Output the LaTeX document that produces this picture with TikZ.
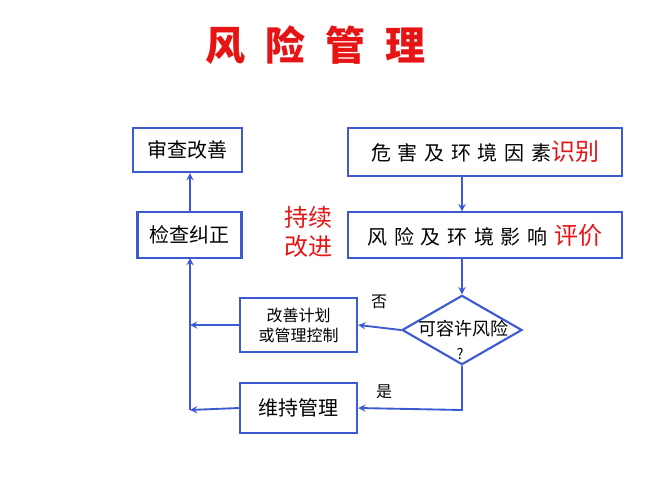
\documentclass[tikz,border=0pt]{standalone}
\usepackage{fontspec}
\setmainfont{Noto Sans CJK SC}
\usetikzlibrary{shapes.geometric}
\definecolor{boxblue}{RGB}{60,90,210}
\definecolor{titlered}{RGB}{230,20,20}
\tikzset{box/.style={draw=boxblue,line width=1.6pt,fill=white,inner sep=0pt,font=\fontsize{15}{18}\selectfont},
  flow/.style={->,>=stealth,draw=boxblue,line width=1.4pt}}
\begin{document}
\begin{tikzpicture}[x=0.75pt,y=-0.75pt]
                \useasboundingbox (0,0) rectangle (667,500);
                % Title
                \node[font=\fontsize{30}{34}\selectfont\bfseries,text=titlered] (title) at (315,45) {风\enspace 险\enspace 管\enspace 理};

                % Boxes
                \node[box,minimum width=82pt,minimum height=33pt] (audit) at (187.5,150) {审查改善};
                \node[box,minimum width=205pt,minimum height=36pt] (ident) at (485,152) {危\,\,害\,\,及\,\,环\,\,境\,\,因\,\,素\textcolor{titlered}{\fontsize{18}{20}\selectfont 识别}};
                \node[box,minimum width=78pt,minimum height=34pt] (check) at (189.5,235) {检查纠正};
                \node[box,minimum width=205pt,minimum height=34pt] (eval) at (485,235) {风\,\,险\,\,及\,\,环\,\,境\,\,影\,\,响\,\,\textcolor{titlered}{\fontsize{18}{20}\selectfont 评价}};
                \node[box,draw=boxblue,diamond,aspect=1.9,minimum width=90pt,minimum height=52pt] (risk) at (462,330) {};
                \node[font=\fontsize{13.5}{16}\selectfont] (risktxt) at (463,329) {可容许风险};
                \node[font=\fontsize{11}{13}\selectfont] (q) at (460,354) {?};
                \node[box,minimum width=88pt,minimum height=40pt,align=center,font=\fontsize{12}{15}\selectfont] (plan) at (298.5,325) {改善计划\\或管理控制};
                \node[box,minimum width=88pt,minimum height=37pt] (keep) at (298.5,408) {维持管理};

                % Labels
                \node[font=\fontsize{18}{22}\selectfont,text=titlered,align=center] (cont) at (308,232) {持续\\改进};
                \node[font=\fontsize{12}{14}\selectfont] (no) at (379,302) {否};
                \node[font=\fontsize{12}{14}\selectfont] (yes) at (384,392) {是};

                % Connectors
                \coordinate (loopb) at (190,410);
                \coordinate (loopt) at (190,258);
                \coordinate (turn) at (462,410);
                \draw[flow] (ident.south -| risk.north) -- (eval.north -| risk.north);
                \draw[flow] (eval.south -| risk.north) -- (risk.north);
                \draw[flow] (risk.west) -- (plan.east);
                \draw[flow] (risk.south) -- (turn) -- (keep.east);
                \draw[flow] (plan.west) -- (plan.west -| loopb);
                \draw[flow] (keep.west) -- (loopb);
                \draw[flow] (loopb) -- (loopt);
                \draw[flow] (check.north -| loopb) -- (audit.south -| loopb);
\end{tikzpicture}
\end{document}
